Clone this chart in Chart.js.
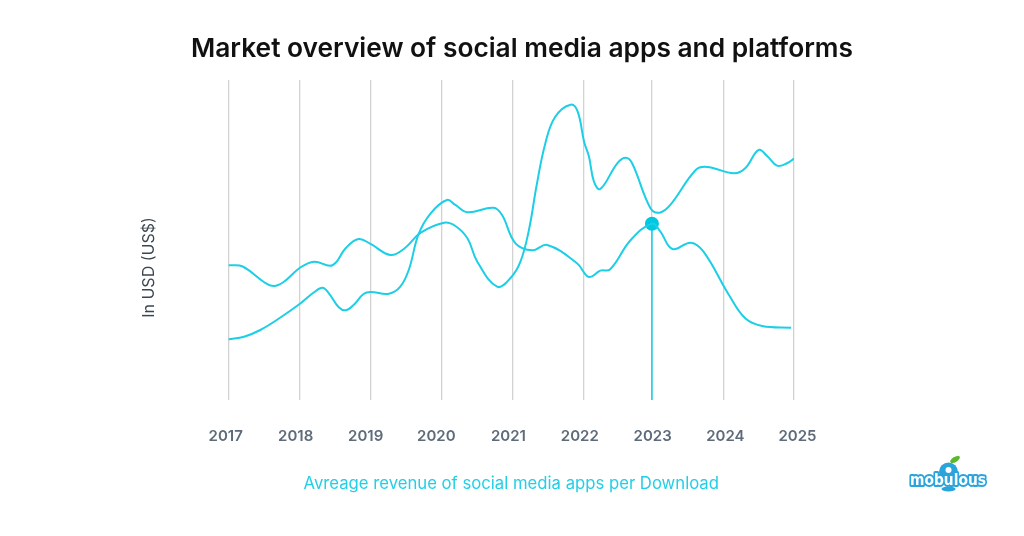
<!DOCTYPE html>
<html>
<head>
<meta charset="utf-8">
<title>Market overview of social media apps and platforms</title>
<script src="https://cdn.jsdelivr.net/npm/chart.js@4"></script>
<style>
    html, body { margin: 0; padding: 0; background: #fff; }
    canvas { display: block; }
</style>
</head>
<body>
<canvas id="myChart" width="1024" height="536"></canvas>
<script>
const tickLabels = ['2017', '2018', '2019', '2020', '2021', '2022', '2023', '2024', '2025'];
const gridYears = [2017, 2018.004, 2019.009, 2020.013, 2021.02, 2022.026, 2022.988, 2023.998, 2025];
const labelYears = [2016.96, 2017.95, 2018.94, 2019.94, 2020.96, 2021.97, 2023, 2024.03, 2025.05];

const upperYears = [2017, 2017.2, 2017.5, 2017.64, 2017.78, 2018.02, 2018.21, 2018.47, 2018.66, 2018.84,
    2019.01, 2019.29, 2019.48, 2019.72, 2020.05, 2020.21, 2020.38, 2020.52, 2020.8, 2020.99,
    2021.13, 2021.25, 2021.36, 2021.48, 2021.62, 2021.84, 2021.94, 2022.03, 2022.1, 2022.17, 2022.26,
    2022.5, 2022.62, 2022.71, 2022.97, 2023.1, 2023.25, 2023.61, 2023.77, 2024.15, 2024.31,
    2024.5, 2024.62, 2024.76, 2024.9, 2025];
const upperValues = [134.7, 133.5, 118, 114, 118, 132.7, 138.3, 134.7, 152, 161,
    156, 145, 151, 167.3, 177.3, 174, 161.7, 138.3, 113.3, 122,
    138.3, 170, 215, 256, 283, 295.3, 288.3, 258.3, 243.3, 218.3, 211,
    236.7, 242.3, 236.7, 191.7, 187.3, 195, 230, 233, 226.7, 231.7,
    250, 244, 234.3, 236.7, 241.3];

const lowerYears = [2017, 2017.22, 2017.45, 2017.74, 2018.02, 2018.21, 2018.33, 2018.42, 2018.56, 2018.66, 2018.77,
    2018.91, 2019.01, 2019.27, 2019.43, 2019.55, 2019.69, 2019.86, 2020.09, 2020.21, 2020.38,
    2020.75, 2020.87, 2021.06, 2021.3, 2021.51, 2021.93, 2022.1, 2022.26, 2022.4, 2022.69,
    2022.99, 2023.11, 2023.28, 2023.54, 2023.72, 2024.08, 2024.31, 2024.55, 2024.96];
const lowerValues = [60.7, 63.3, 70, 82.7, 96.7, 107.7, 112.3, 106.7, 92.7, 89.7, 95,
    106, 108, 106.3, 113.3, 130, 166, 186.7, 200, 195, 187.7,
    192.3, 185, 156.7, 149.7, 155, 136.7, 123, 129.3, 130.7, 160,
    176.3, 168.3, 151, 157.3, 148.3, 105, 81.7, 74, 72.3];

const markerYear = 2022.99;
const markerValue = 176.3;

const lineColor = '#1ccfe6';

function toPoints(years, values) {
    return years.map((year, i) => ({x: year, y: values[i]}));
}

// y axis title and logo are not tied to any scale so they get drawn by hand
const extrasPlugin = {
    id: 'extras',
    afterDraw(chart) {
        const ctx = chart.ctx;
        ctx.save();
        ctx.translate(149, 267.5);
        ctx.rotate(-Math.PI / 2);
        ctx.font = '400 16px Inter';
        ctx.fillStyle = '#3c4650';
        ctx.textAlign = 'center';
        ctx.textBaseline = 'middle';
        ctx.fillText('In USD (US$)', 0, 0);
        ctx.restore();

        ctx.save();
        ctx.fillStyle = '#2aa4dc';
        ctx.beginPath();
        ctx.arc(948.5, 472, 9.5, 0, Math.PI * 2);
        ctx.fill();
        ctx.fillStyle = '#fff';
        ctx.beginPath();
        ctx.arc(948.5, 470, 3, 0, Math.PI * 2);
        ctx.fill();
        ctx.fillStyle = '#5cb82e';
        ctx.beginPath();
        ctx.ellipse(955, 459.5, 5.5, 2.6, -0.55, 0, Math.PI * 2);
        ctx.fill();
        ctx.fillStyle = '#2aa4dc';
        ctx.beginPath();
        ctx.ellipse(948.5, 489, 7, 2.4, 0, 0, Math.PI * 2);
        ctx.fill();
        ctx.font = '700 16px "DejaVu Sans"';
        ctx.textAlign = 'center';
        ctx.textBaseline = 'middle';
        ctx.lineJoin = 'round';
        ctx.lineWidth = 4;
        ctx.strokeStyle = '#2aa4dc';
        ctx.strokeText('mobulous', 948, 480.5, 76);
        ctx.fillStyle = '#fff';
        ctx.fillText('mobulous', 948, 480.5, 76);
        ctx.restore();
    }
};

new Chart(document.getElementById('myChart'), {
    type: 'line',
    data: {
        datasets: [
            {
                data: toPoints(upperYears, upperValues),
                borderColor: lineColor,
                borderWidth: 2,
                pointRadius: 0,
                tension: 0.4,
            },
            {
                data: toPoints(lowerYears, lowerValues),
                borderColor: lineColor,
                borderWidth: 2,
                pointRadius: 0,
                tension: 0.4,
            },
            {
                data: [{x: markerYear, y: markerValue}, {x: markerYear, y: 0}],
                borderColor: lineColor,
                borderWidth: 1.6,
                backgroundColor: '#00c8e0',
                pointBackgroundColor: '#00c8e0',
                pointBorderWidth: 0,
                pointRadius: [7, 0],
            },
        ],
    },
    plugins: [extrasPlugin],
    options: {
        responsive: false,
        animation: false,
        layout: {padding: {left: 20, right: 0, top: 0, bottom: 0}},
        plugins: {
            legend: {display: false},
            tooltip: {enabled: false},
            title: {
                display: true,
                text: 'Market overview of social media apps and platforms',
                color: '#111111',
                font: {family: 'Inter', size: 26.3, weight: '600', lineHeight: 1.2},
                padding: {top: 33, bottom: 15.4},
            },
        },
        scales: {
            x: {
                type: 'linear',
                position: 'bottom',
                min: 2017,
                max: 2025,
                afterBuildTicks: scale => { scale.ticks = gridYears.map(value => ({value})); },
                afterFit: scale => { scale.height = 0; },
                grid: {color: '#d2d2d2', lineWidth: 1.3, drawTicks: false},
                border: {display: false},
                ticks: {display: false},
            },
            xYears: {
                type: 'linear',
                position: 'bottom',
                min: 2017,
                max: 2025,
                afterBuildTicks: scale => { scale.ticks = labelYears.map(value => ({value})); },
                afterFit: scale => { scale.height = 136; },
                grid: {display: false},
                border: {display: false},
                ticks: {
                    autoSkip: false,
                    maxRotation: 0,
                    padding: 19,
                    color: '#5e6b7a',
                    font: {family: 'Inter', size: 15, weight: '600'},
                    callback: (value, index) => tickLabels[index],
                },
                title: {
                    display: true,
                    text: 'Avreage revenue of social media apps per Download',
                    color: '#22cfe6',
                    font: {family: 'Inter', size: 16.7, weight: '400'},
                    padding: {bottom: 42},
                },
            },
            y: {
                min: 0,
                max: 320,
                afterFit: scale => { scale.width = 208.5; },
                grid: {display: false},
                border: {display: false},
                ticks: {display: false},
            },
            yRight: {
                position: 'right',
                min: 0,
                max: 320,
                afterFit: scale => { scale.width = 230; },
                grid: {display: false},
                border: {display: false},
                ticks: {display: false},
            },
        },
    },
});
</script>
</body>
</html>
